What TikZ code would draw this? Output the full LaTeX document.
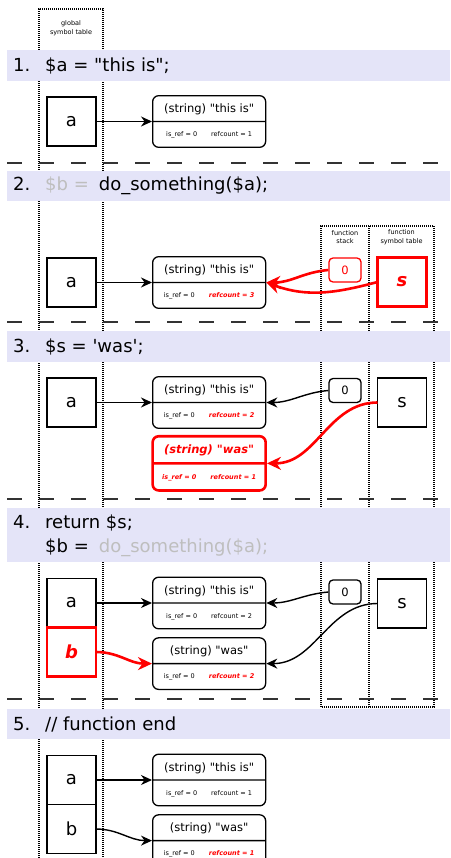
\documentclass[tikz,border=0pt]{standalone}
\usepackage{fontspec}
\setmainfont{DejaVu Sans}[Ligatures=TeXOff]
\usetikzlibrary{positioning}
\usetikzlibrary{arrows.meta,shapes.multipart}

\definecolor{bandblue}{RGB}{228,228,248}
\definecolor{faded}{RGB}{190,190,190}

\newcommand\codesize{\fontsize{18}{24}\selectfont}
\newcommand\hdrsize{\fontsize{11.5}{11.5}\selectfont}
\newcommand\tinysize{\fontsize{6.5}{8.5}\selectfont}
% zval: header on top, flags below
\newcommand\zv[2]{\rule[-8.3pt]{0pt}{24.5pt}{\hdrsize #1}\nodepart{two}\rule[-9.85pt]{0pt}{24.5pt}{\tinysize #2}}
\newcommand\refs[2]{is\_ref = #1\hspace{14pt}refcount = #2}
\newcommand\refsred[2]{is\_ref = #1\hspace{14pt}{\color{red}\bfseries\itshape refcount = #2}}

\begin{document}
\begin{tikzpicture}[x=1pt,y=1pt,
  var/.style={draw,line width=1.3pt,minimum size=49pt,inner sep=0pt,outer sep=0pt,font=\codesize},
  newvar/.style={var,draw=red,line width=2.8pt,text=red,font=\codesize\bfseries\itshape},
  zbox/.style={rectangle split,rectangle split parts=2,draw,rounded corners=6pt,line width=1.3pt,minimum width=113pt,inner sep=0pt},
  newzbox/.style={zbox,draw=red,line width=2.6pt,text=red,font=\bfseries\itshape},
  stack/.style={draw,rounded corners=4pt,line width=1.3pt,minimum width=32pt,minimum height=24pt,inner sep=0pt,font=\hdrsize},
  ref/.style={-{Stealth[length=11pt,width=10pt]},line width=1.4pt},
  newref/.style={-{Stealth[length=14pt,width=13pt]},line width=2.6pt,red},
  band/.style={fill=bandblue},
  code/.style={anchor=west,inner sep=0pt,font=\codesize,align=left},
  symtab/.style={dash pattern=on 1pt off 1pt,line width=1.1pt},
  tablename/.style={font=\tinysize,align=center,inner sep=0pt},
  stepline/.style={dash pattern=on 15pt off 17pt,line width=2pt,black!80}]
\useasboundingbox (0,0) rectangle (450,-858);

% symbol tables
\draw[symtab] (39,-858) -- (39,-9) -- (103,-9) -- (103,-858);
\node[tablename] (gst) at (71,-28) {global\\symbol table};
\draw[symtab] (321,-707) rectangle (434,-226);
\draw[symtab] (369,-226) -- (369,-707);
\node[tablename] (fst) at (345,-237) {function\\stack};
\node[tablename] (fsym) at (401.5,-237) {function\\symbol table};

% code lines
\fill[band] (7,-50) rectangle (450,-81);
\fill[band] (7,-171) rectangle (450,-201);
\fill[band] (7,-331) rectangle (450,-362);
\fill[band] (7,-508) rectangle (450,-562);
\fill[band] (7,-709) rectangle (450,-739);
\node[code] (c1) at (13,-65.5) {\makebox[32pt][l]{1.}\$a = "this is";};
\node[code] (c2) at (13,-186) {\makebox[32pt][l]{2.}\textcolor{faded}{\$b =}\hspace{10pt}do\_something(\$a);};
\node[code] (c3) at (13,-346.5) {\makebox[32pt][l]{3.}\$s = 'was';};
\node[code] (c4) at (13,-536) {\makebox[32pt][l]{4.}return \$s;\\\hspace*{32pt}\$b =\hspace{10pt}\textcolor{faded}{do\_something(\$a);}};
\node[code] (c5) at (13,-724) {\makebox[32pt][l]{5.}// function end};

\draw[stepline] (7,-163) -- (445,-163);
\draw[stepline] (7,-322) -- (445,-322);
\draw[stepline] (7,-499) -- (445,-499);
\draw[stepline] (7,-699) -- (445,-699);

% 1.
\node[var] (a1) at (71.5,-121.5) {a};
\node[zbox,right=56pt of a1] (z1) {\zv{(string) "this is"}{\refs{0}{1}}};
\draw[ref] (a1.east) -- (z1.west);

% 2.
\node[var] (a2) at (71.5,-282.5) {a};
\node[zbox,right=56pt of a2] (z2) {\zv{(string) "this is"}{\refsred{0}{3}}};
\node[stack,draw=red,text=red] (st2) at (345,-270) {0};
\node[newvar] (s2) at (402,-282) {s};
\draw[ref] (a2.east) -- (z2.west);
\draw[newref] (st2.west) to[out=185,in=0] (z2.east);
\draw[newref] (s2.west) to[out=195,in=-20] (z2.east);

% 3.
\node[var] (a3) at (71.5,-402.5) {a};
\node[zbox,right=56pt of a3] (z3) {\zv{(string) "this is"}{\refsred{0}{2}}};
\node[newzbox,below=6pt of z3] (w3) {\zv{(string) "was"}{\refs{0}{1}}};
\node[stack] (st3) at (345,-390.5) {0};
\node[var] (s3) at (402,-402.5) {s};
\draw[ref] (a3.east) -- (z3.west);
\draw[ref] (st3.west) to[out=185,in=0] (z3.east);
\draw[newref] (s3.west) to[out=180,in=0] (w3.east);

% 4.
\node[var] (a4) at (71.5,-603) {a};
\node[newvar,below=0pt of a4] (b4) {b};
\node[zbox,right=56pt of a4] (z4) {\zv{(string) "this is"}{\refs{0}{2}}};
\node[zbox,below=7.7pt of z4] (w4) {\zv{(string) "was"}{\refsred{0}{2}}};
\node[stack] (st4) at (345,-592) {0};
\node[var] (s4) at (402,-603.5) {s};
\draw[ref] (a4.east) -- (z4.west);
\draw[newref] (b4.east) to[out=0,in=180] (w4.west);
\draw[ref] (st4.west) to[out=185,in=0] (z4.east);
\draw[ref] (s4.west) to[out=180,in=0] (w4.east);

% 5.
\node[var] (a5) at (71.5,-780) {a};
\node[var,below=0pt of a5] (b5) {b};
\node[zbox,right=56pt of a5] (z5) {\zv{(string) "this is"}{\refs{0}{1}}};
\node[zbox,below=7.7pt of z5] (w5) {\zv{(string) "was"}{\refsred{0}{1}}};
\draw[ref] (a5.east) -- (z5.west);
\draw[ref] (b5.east) to[out=0,in=180] (w5.west);

\end{tikzpicture}
\end{document}
